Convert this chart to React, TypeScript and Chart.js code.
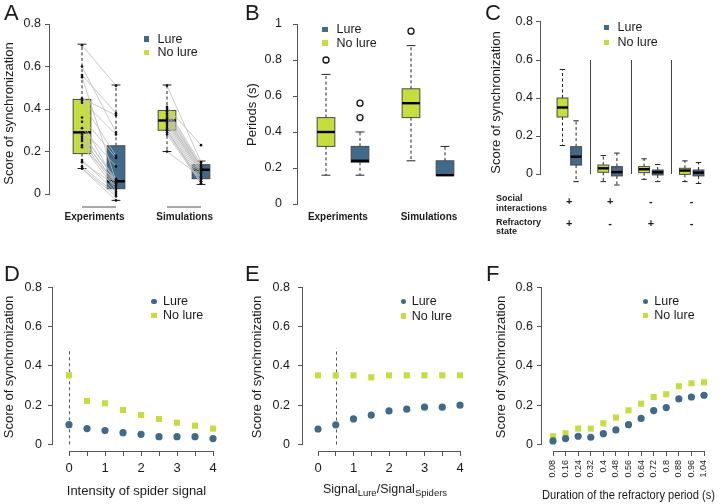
import React, { useEffect, useRef } from "react";
import { Chart, registerables } from "chart.js";
Chart.register(...registerables);

const W = 724;
const H = 504;
const LURE = "#41698a";
const NOLURE = "#c6dd3e";
const AXIS = "#555555";
const INK = "#1a1a1a";
const FONT = '"Liberation Sans", Arial, Helvetica, sans-serif';

// ---------- Panel A ----------
const aGroupLabels = ["Experiments", "Simulations"];
const aExpNoLure = [0.70, 0.60, 0.56, 0.55, 0.45, 0.44, 0.43, 0.36, 0.34, 0.31, 0.29, 0.28, 0.27, 0.26, 0.25, 0.23, 0.22, 0.16, 0.15, 0.13, 0.12, 0.12];
const aExpLure = [0.51, 0.29, 0.38, 0.06, 0.37, 0.28, 0.18, 0.17, 0.05, 0.13, 0.06, 0.07, 0.04, 0.05, 0.03, 0.02, 0.06, 0.01, 0.04, 0.0, -0.01, -0.03];
const aSimNoLure = [0.51, 0.41, 0.40, 0.39, 0.38, 0.37, 0.36, 0.355, 0.35, 0.34, 0.34, 0.33, 0.32, 0.31, 0.30, 0.30, 0.29, 0.28, 0.20];
const aSimLure = [0.15, 0.23, 0.14, 0.13, 0.12, 0.13, 0.12, 0.11, 0.11, 0.10, 0.10, 0.09, 0.08, 0.07, 0.06, 0.05, 0.06, 0.05, 0.08];
// box stats: [lower whisker, Q1, median, Q3, upper whisker]
const aBoxExpNoLure = [0.12, 0.19, 0.29, 0.445, 0.705];
const aBoxExpLure = [-0.03, 0.025, 0.06, 0.227, 0.513];
const aBoxSimNoLure = [0.20, 0.30, 0.346, 0.393, 0.513];
const aBoxSimLure = [0.045, 0.072, 0.114, 0.138, 0.155];

// ---------- Panel B ----------
const bGroupLabels = ["Experiments", "Simulations"];
const bBoxExpNoLure = [0.16, 0.32, 0.40, 0.48, 0.72];
const bBoxExpLure = [0.16, 0.232, 0.24, 0.32, 0.40];
const bBoxSimNoLure = [0.24, 0.48, 0.56, 0.64, 0.88];
const bBoxSimLure = [0.16, 0.16, 0.16, 0.24, 0.32];
const bOutExpNoLure = [0.80];
const bOutExpLure = [0.48, 0.56];
const bOutSimNoLure = [0.96];

// ---------- Panel C ----------
const cSocial = ["+", "+", "-", "-"];
const cRefractory = ["+", "-", "+", "-"];
const cBoxNoLure = [
  [0.15, 0.30, 0.35, 0.40, 0.55],
  [-0.04, 0.009, 0.03, 0.047, 0.097],
  [-0.028, 0.007, 0.025, 0.039, 0.08],
  [-0.04, -0.002, 0.018, 0.03, 0.069],
];
const cBoxLure = [
  [-0.04, 0.047, 0.091, 0.144, 0.28],
  [-0.058, -0.01, 0.01, 0.039, 0.11],
  [-0.04, -0.005, 0.009, 0.021, 0.05],
  [-0.05, -0.01, 0.007, 0.021, 0.06],
];

// ---------- Panel D ----------
const dX = [0, 0.5, 1, 1.5, 2, 2.5, 3, 3.5, 4];
const dTickLabels = ["0", "", "1", "", "2", "", "3", "", "4"];
const dLure = [0.10, 0.08, 0.07, 0.059, 0.051, 0.039, 0.039, 0.039, 0.029];
const dNoLure = [0.352, 0.221, 0.209, 0.175, 0.149, 0.129, 0.11, 0.095, 0.08];

// ---------- Panel E ----------
const eX = [0, 0.5, 1, 1.5, 2, 2.5, 3, 3.5, 4];
const eTickLabels = ["0", "", "1", "", "2", "", "3", "", "4"];
const eLure = [0.079, 0.10, 0.13, 0.15, 0.171, 0.18, 0.19, 0.19, 0.20];
const eNoLure = [0.352, 0.352, 0.352, 0.342, 0.352, 0.352, 0.352, 0.352, 0.352];

// ---------- Panel F ----------
const fX = [0.08, 0.16, 0.24, 0.32, 0.4, 0.48, 0.56, 0.64, 0.72, 0.8, 0.88, 0.96, 1.04];
const fTickLabels = ["0.08", "0.16", "0.24", "0.32", "0.4", "0.48", "0.56", "0.64", "0.72", "0.8", "0.88", "0.96", "1.04"];
const fLure = [0.017, 0.029, 0.041, 0.036, 0.054, 0.073, 0.10, 0.132, 0.172, 0.187, 0.231, 0.241, 0.25];
const fNoLure = [0.041, 0.056, 0.08, 0.08, 0.107, 0.136, 0.173, 0.207, 0.241, 0.255, 0.296, 0.311, 0.316];

const yTicks08 = [0, 0.2, 0.4, 0.6, 0.8];
const yTicks1 = [0, 0.2, 0.4, 0.6, 0.8, 1];

type Area = { l: number; t: number; r: number; b: number };
type Spec = {
  area: Area;
  yw: number;
  xh: number;
  xCal: [number, number, number, number];
  yCal: [number, number, number, number];
  yTicks: number[];
  yTitle: string;
  yTitleX: number;
  yTickPad: number;
  xTicks: number[];
  xLabel: (i: number) => string | string[];
  xFont: any;
  xTickPad: number;
  xTickLen: number;
  xRot?: number;
  xTitle?: string;
  xTitleSize?: number;
  xTitleY?: number;
  xAxisSpan?: [number, number];
  datasets: any[];
  under?: (chart: any) => void;
};

function lin(cal: [number, number, number, number], pa: number, pb: number) {
  const [p0, v0, p1, v1] = cal;
  const k = (v1 - v0) / (p1 - p0);
  return [v0 + (pa - p0) * k, v0 + (pb - p0) * k];
}

const fmt = (v: number) => String(+Number(v).toFixed(2));

function drawBox(chart: any, pos: number, w: number, s: number[], color: string) {
  const { ctx } = chart;
  const x = chart.scales.x;
  const y = chart.scales.y;
  const cx = x.getPixelForValue(pos);
  const hw = Math.abs(x.getPixelForValue(pos + w / 2) - cx);
  const [lo, q1, md, q3, hi] = s.map((v) => y.getPixelForValue(v));
  ctx.save();
  ctx.strokeStyle = "#222";
  ctx.lineWidth = 1;
  ctx.setLineDash([3, 2.5]);
  ctx.beginPath();
  ctx.moveTo(cx, q3);
  ctx.lineTo(cx, hi);
  ctx.moveTo(cx, q1);
  ctx.lineTo(cx, lo);
  ctx.stroke();
  ctx.setLineDash([]);
  ctx.beginPath();
  ctx.moveTo(cx - hw / 2, hi);
  ctx.lineTo(cx + hw / 2, hi);
  ctx.moveTo(cx - hw / 2, lo);
  ctx.lineTo(cx + hw / 2, lo);
  ctx.stroke();
  ctx.fillStyle = color;
  ctx.fillRect(cx - hw, q3, 2 * hw, q1 - q3);
  ctx.strokeStyle = "#4a4a4a";
  ctx.strokeRect(cx - hw, q3, 2 * hw, q1 - q3);
  ctx.lineWidth = 2.4;
  ctx.strokeStyle = "#000";
  ctx.beginPath();
  ctx.moveTo(cx - hw, md);
  ctx.lineTo(cx + hw, md);
  ctx.stroke();
  ctx.restore();
}

function drawPairs(chart: any, x0: number, x1: number, a: number[], b: number[]) {
  const { ctx } = chart;
  const x = chart.scales.x;
  const y = chart.scales.y;
  ctx.save();
  ctx.strokeStyle = "#bcbcbc";
  ctx.lineWidth = 0.8;
  ctx.beginPath();
  a.forEach((v, i) => {
    ctx.moveTo(x.getPixelForValue(x0), y.getPixelForValue(v));
    ctx.lineTo(x.getPixelForValue(x1), y.getPixelForValue(b[i]));
  });
  ctx.stroke();
  ctx.restore();
}

function vline(chart: any, xv: number, y0: number, y1: number, dash: number[], color: string) {
  const { ctx } = chart;
  const px = Math.round(chart.scales.x.getPixelForValue(xv)) + 0.5;
  ctx.save();
  ctx.strokeStyle = color;
  ctx.lineWidth = 1;
  ctx.setLineDash(dash);
  ctx.beginPath();
  ctx.moveTo(px, chart.scales.y.getPixelForValue(y0));
  ctx.lineTo(px, chart.scales.y.getPixelForValue(y1));
  ctx.stroke();
  ctx.restore();
}

function build(spec: Spec, n: number) {
  const { area } = spec;
  const [xmin, xmax] = lin(spec.xCal, area.l, area.r);
  const [ymin, ymax] = lin(spec.yCal, area.b, area.t);
  const scaleLeft = area.l - spec.yw;
  const xScaleBottom = area.b + spec.xh;
  const tSize = spec.xTitleSize || 13;
  const decor = {
    id: "decor" + n,
    beforeDatasetsDraw(chart: any) {
      if (spec.under) spec.under(chart);
    },
    afterDraw(chart: any) {
      const { ctx, chartArea } = chart;
      ctx.save();
      ctx.strokeStyle = AXIS;
      ctx.lineWidth = 1;
      const lx = Math.round(chartArea.left) - 0.5;
      ctx.beginPath();
      ctx.moveTo(lx, chart.scales.y.getPixelForValue(spec.yTicks[0]));
      ctx.lineTo(lx, chart.scales.y.getPixelForValue(spec.yTicks[spec.yTicks.length - 1]));
      if (spec.xAxisSpan) {
        const by = Math.round(chartArea.bottom) + 0.5;
        ctx.moveTo(chart.scales.x.getPixelForValue(spec.xAxisSpan[0]), by);
        ctx.lineTo(chart.scales.x.getPixelForValue(spec.xAxisSpan[1]), by);
      }
      ctx.stroke();
      ctx.restore();
    },
  };
  return {
    type: "scatter",
    data: { datasets: spec.datasets },
    options: {
      animation: false,
      responsive: false,
      devicePixelRatio: 1,
      events: [],
      layout: { padding: { left: scaleLeft, top: area.t, right: W - area.r, bottom: H - xScaleBottom } },
      plugins: { legend: { display: false }, tooltip: { enabled: false }, title: { display: false } },
      scales: {
        x: {
          type: "linear",
          bounds: "data",
          min: xmin,
          max: xmax,
          afterBuildTicks: (s: any) => {
            s.ticks = spec.xTicks.map((v) => ({ value: v }));
          },
          afterFit: (s: any) => {
            s.height = spec.xh;
          },
          ticks: {
            font: spec.xFont,
            color: INK,
            padding: spec.xTickPad,
            autoSkip: false,
            maxRotation: spec.xRot || 0,
            minRotation: spec.xRot || 0,
            callback: (_v: any, i: number) => spec.xLabel(i),
          },
          grid: {
            display: spec.xTickLen > 0,
            drawOnChartArea: false,
            drawTicks: spec.xTickLen > 0,
            tickLength: spec.xTickLen,
            color: AXIS,
          },
          border: { display: false },
          title: spec.xTitle
            ? {
                display: true,
                text: spec.xTitle,
                font: { family: FONT, size: tSize },
                color: INK,
                padding: { top: 0, bottom: xScaleBottom - (spec.xTitleY || 0) - tSize * 0.6 },
              }
            : { display: false },
        },
        y: {
          type: "linear",
          bounds: "data",
          min: ymin,
          max: ymax,
          afterBuildTicks: (s: any) => {
            s.ticks = spec.yTicks.map((v) => ({ value: v }));
          },
          afterFit: (s: any) => {
            s.width = spec.yw;
          },
          ticks: {
            font: { family: FONT, size: 12.5 },
            color: INK,
            padding: spec.yTickPad,
            callback: (v: any) => fmt(v),
          },
          grid: { display: true, drawOnChartArea: false, drawTicks: true, tickLength: 5, color: AXIS },
          border: { display: false },
          title: {
            display: true,
            text: spec.yTitle,
            font: { family: FONT, size: 13 },
            color: INK,
            padding: { top: spec.yTitleX - scaleLeft - 7.8, bottom: 0 },
          },
        },
      },
    },
    plugins: [decor],
  };
}

const dots = (xpos: number, vals: number[]) => ({
  data: vals.map((v) => ({ x: xpos, y: v })),
  pointRadius: 1.3,
  pointStyle: "circle",
  backgroundColor: "#111",
  borderWidth: 0,
});

const outliers = (xpos: number, vals: number[]) => ({
  data: vals.map((v) => ({ x: xpos, y: v })),
  pointRadius: 3,
  pointStyle: "circle",
  backgroundColor: "rgba(255,255,255,1)",
  borderColor: "#111",
  borderWidth: 1.3,
});

const lureSeries = (xs: number[], vals: number[]) => ({
  data: vals.map((v, i) => ({ x: xs[i], y: v })),
  pointRadius: 3.6,
  pointStyle: "circle",
  backgroundColor: LURE,
  borderWidth: 0,
});
const noLureSeries = (xs: number[], vals: number[]) => ({
  data: vals.map((v, i) => ({ x: xs[i], y: v })),
  pointRadius: 4.3,
  pointStyle: "rect",
  backgroundColor: NOLURE,
  borderWidth: 0,
});

const boldTick = (size: number, lh?: number) => ({ family: FONT, size, weight: "bold", lineHeight: lh || 1.2 });

function specs(): Spec[] {
  const A: Spec = {
    area: { l: 50, t: 20, r: 225, b: 207 },
    yw: 50,
    xh: 22,
    xCal: [82, 1, 116, 2],
    yCal: [194, 0, 24, 0.8],
    yTicks: yTicks08,
    yTitle: "Score of synchronization",
    yTitleX: 9,
    yTickPad: 4,
    xTicks: [1.37, 4.02],
    xLabel: (i) => aGroupLabels[i],
    xFont: boldTick(10),
    xTickPad: 4.5,
    xTickLen: 0,
    datasets: [dots(1, aExpNoLure), dots(2, aExpLure), dots(3.5, aSimNoLure), dots(4.5, aSimLure)],
    under: (chart) => {
      drawBox(chart, 1, 0.52, aBoxExpNoLure, NOLURE);
      drawBox(chart, 2, 0.52, aBoxExpLure, LURE);
      drawBox(chart, 3.5, 0.52, aBoxSimNoLure, NOLURE);
      drawBox(chart, 4.5, 0.52, aBoxSimLure, LURE);
      drawPairs(chart, 1, 2, aExpNoLure, aExpLure);
      drawPairs(chart, 3.5, 4.5, aSimNoLure, aSimLure);
      const { ctx, chartArea } = chart;
      const x = chart.scales.x;
      ctx.save();
      ctx.strokeStyle = "#a8a8a8";
      ctx.lineWidth = 2;
      ctx.beginPath();
      const by = chartArea.bottom;
      ctx.moveTo(x.getPixelForValue(1), by);
      ctx.lineTo(x.getPixelForValue(2), by);
      ctx.moveTo(x.getPixelForValue(3.5), by);
      ctx.lineTo(x.getPixelForValue(4.5), by);
      ctx.stroke();
      ctx.restore();
    },
  };
  const B: Spec = {
    area: { l: 298, t: 20, r: 475, b: 209 },
    yw: 54,
    xh: 22,
    xCal: [326, 1, 360, 2],
    yCal: [204, 0, 24, 1],
    yTicks: yTicks1,
    yTitle: "Periods (s)",
    yTitleX: 252,
    yTickPad: 11,
    xTicks: [1.35, 4.03],
    xLabel: (i) => bGroupLabels[i],
    xFont: boldTick(10),
    xTickPad: 2.5,
    xTickLen: 0,
    datasets: [outliers(1, bOutExpNoLure), outliers(2, bOutExpLure), outliers(3.5, bOutSimNoLure)],
    under: (chart) => {
      drawBox(chart, 1, 0.52, bBoxExpNoLure, NOLURE);
      drawBox(chart, 2, 0.52, bBoxExpLure, LURE);
      drawBox(chart, 3.5, 0.52, bBoxSimNoLure, NOLURE);
      drawBox(chart, 4.5, 0.52, bBoxSimLure, LURE);
    },
  };
  const C: Spec = {
    area: { l: 541, t: 18, r: 712, b: 187 },
    yw: 53,
    xh: 55,
    xCal: [562.5, 1, 698.5, 11],
    yCal: [174, 0, 22, 0.8],
    yTicks: yTicks08,
    yTitle: "Score of synchronization",
    yTitleX: 496,
    yTickPad: 3,
    xTicks: [1.5, 4.5, 7.5, 10.5],
    xLabel: (i) => [cSocial[i], cRefractory[i]],
    xFont: boldTick(11, 2),
    xTickPad: 4,
    xTickLen: 0,
    datasets: [],
    under: (chart) => {
      cBoxNoLure.forEach((s, g) => drawBox(chart, g * 3 + 1, 0.8, s, NOLURE));
      cBoxLure.forEach((s, g) => drawBox(chart, g * 3 + 2, 0.8, s, LURE));
      [3, 6, 9].forEach((p) => vline(chart, p, 0, 0.6, [], "#444"));
    },
  };
  const D: Spec = {
    area: { l: 53, t: 283, r: 220, b: 451 },
    yw: 53,
    xh: 50,
    xCal: [69, 0, 213, 4],
    yCal: [444.3, 0, 287.3, 0.8],
    yTicks: yTicks08,
    yTitle: "Score of synchronization",
    yTitleX: 9,
    yTickPad: 6,
    xTicks: dX,
    xLabel: (i) => dTickLabels[i],
    xFont: { family: FONT, size: 13 },
    xTickPad: 5,
    xTickLen: 5,
    xTitle: "Intensity of spider signal",
    xTitleSize: 13,
    xTitleY: 491,
    xAxisSpan: [0, 4],
    datasets: [lureSeries(dX, dLure), noLureSeries(dX, dNoLure)],
    under: (chart) => vline(chart, 0, 0, 0.49, [3, 3], "#555"),
  };
  const E: Spec = {
    area: { l: 303, t: 283, r: 467, b: 451 },
    yw: 54,
    xh: 50,
    xCal: [318, 0, 460, 4],
    yCal: [444.5, 0, 287.3, 0.8],
    yTicks: yTicks08,
    yTitle: "Score of synchronization",
    yTitleX: 257.5,
    yTickPad: 8,
    xTicks: eX,
    xLabel: (i) => eTickLabels[i],
    xFont: { family: FONT, size: 13 },
    xTickPad: 5,
    xTickLen: 5,
    xAxisSpan: [0, 4],
    datasets: [lureSeries(eX, eLure), noLureSeries(eX, eNoLure)],
    under: (chart) => vline(chart, 0.5, 0, 0.49, [3, 3], "#555"),
  };
  const F: Spec = {
    area: { l: 542, t: 283, r: 715, b: 451 },
    yw: 50,
    xh: 53,
    xCal: [553, 0.08, 704, 1.04],
    yCal: [444.3, 0, 287.3, 0.8],
    yTicks: yTicks08,
    yTitle: "Score of synchronization",
    yTitleX: 501,
    yTickPad: 4,
    xTicks: fX,
    xLabel: (i) => fTickLabels[i],
    xFont: { family: FONT, size: 9 },
    xTickPad: 4,
    xTickLen: 5,
    xRot: 90,
    xTitle: "Duration of the refractory period (s)",
    xTitleSize: 12,
    xTitleY: 496,
    xAxisSpan: [0.08, 1.04],
    datasets: [lureSeries(fX, fLure), noLureSeries(fX, fNoLure)],
  };
  return [A, B, C, D, E, F];
}

const Txt = (p: { x: number; y: number; size: number; bold?: boolean; children: any }) => (
  <div
    style={{
      position: "absolute",
      left: p.x,
      top: p.y - p.size / 2,
      fontSize: p.size,
      lineHeight: `${p.size}px`,
      fontFamily: FONT,
      fontWeight: p.bold ? "bold" : "normal",
      whiteSpace: "nowrap",
      color: INK,
    }}
  >
    {p.children}
  </div>
);

const Marker = (p: { x: number; y: number; size: number; color: string; round?: boolean }) => (
  <div
    style={{
      position: "absolute",
      left: p.x - p.size / 2,
      top: p.y - p.size / 2,
      width: p.size,
      height: p.size,
      background: p.color,
      borderRadius: p.round ? "50%" : 0,
    }}
  />
);

const Legend = (p: { mx: number; tx: number; y1: number; y2: number; round?: boolean; size: number }) => (
  <>
    <Marker x={p.mx} y={p.y1} size={p.size} color={LURE} round={p.round} />
    <Txt x={p.tx} y={p.y1} size={12.5}>Lure</Txt>
    <Marker x={p.mx} y={p.y2} size={p.size} color={NOLURE} />
    <Txt x={p.tx} y={p.y2} size={12.5}>No lure</Txt>
  </>
);

export default function App() {
  const refs = useRef<(HTMLCanvasElement | null)[]>([]);
  useEffect(() => {
    const charts = specs().map((s, i) => new Chart(refs.current[i] as HTMLCanvasElement, build(s, i) as any));
    return () => charts.forEach((c) => c.destroy());
  }, []);
  return (
    <div style={{ position: "fixed", left: 0, top: 0, width: W, height: H, background: "#fff", overflow: "hidden" }}>
      {[0, 1, 2, 3, 4, 5].map((i) => (
        <canvas
          key={i}
          ref={(el) => {
            refs.current[i] = el;
          }}
          width={W}
          height={H}
          style={{ position: "absolute", left: 0, top: 0, width: W, height: H }}
        />
      ))}
      <Txt x={4} y={13} size={22}>A</Txt>
      <Txt x={245} y={13} size={22}>B</Txt>
      <Txt x={485} y={13} size={22}>C</Txt>
      <Txt x={4} y={274} size={22}>D</Txt>
      <Txt x={245} y={274} size={22}>E</Txt>
      <Txt x={486} y={274} size={22}>F</Txt>

      <Legend mx={146.5} tx={157.5} y1={39} y2={52.5} size={5.5} />
      <Legend mx={325} tx={336.5} y1={29.5} y2={43} size={5.5} />
      <Legend mx={606.5} tx={617.5} y1={27.5} y2={42.5} size={5.5} />
      <Legend mx={154} tx={163} y1={301.5} y2={315.7} size={5.5} round />
      <Legend mx={403.5} tx={411.7} y1={301.7} y2={316} size={5.5} round />
      <Legend mx={645.5} tx={654.3} y1={301.7} y2={315.7} size={5.5} round />

      <Txt x={496} y={198.3} size={9} bold>Social</Txt>
      <Txt x={496} y={208.5} size={9} bold>interactions</Txt>
      <Txt x={496} y={222} size={9} bold>Refractory</Txt>
      <Txt x={496} y={231.5} size={9} bold>state</Txt>

      <div
        style={{
          position: "absolute",
          left: 285,
          width: 200,
          top: 489 - 7,
          textAlign: "center",
          fontFamily: FONT,
          fontSize: 12.5,
          lineHeight: "14px",
          color: INK,
          whiteSpace: "nowrap",
        }}
      >
        Signal<span style={{ fontSize: 9.5, verticalAlign: -3 }}>Lure</span>/Signal
        <span style={{ fontSize: 9.5, verticalAlign: -3 }}>Spiders</span>
      </div>
    </div>
  );
}
